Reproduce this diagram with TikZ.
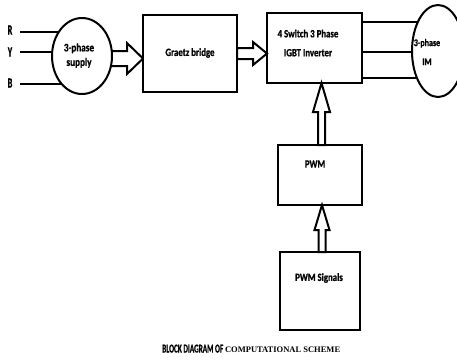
\documentclass[tikz,border=0pt]{standalone}
\usepackage{fontspec}
\setmainfont{Carlito}[FakeStretch=0.8, BoldFeatures={FakeBold=1}]
\newfontfamily\narrowfont{Carlito}[FakeStretch=0.6, BoldFeatures={FakeBold=0.8}]
\newfontfamily\serifcap{Liberation Serif}
\usetikzlibrary{shapes.geometric}
\pgfdeclarelayer{background}
\pgfsetlayers{background,main}
\tikzset{
  blk/.style={draw=black, fill=white, rectangle, inner sep=0pt, line width=2pt},
  oval/.style={draw=black, fill=white, ellipse, inner sep=0pt, line width=2pt},
  lbl/.style={font=\fontsize{11}{13}\selectfont\bfseries, align=center, inner sep=0pt},
  rlbl/.style={font=\narrowfont\bfseries\fontsize{14}{16}\selectfont, inner sep=0pt},
  hollow/.style={draw=black, fill=white, line join=miter, line width=2pt},
  wire/.style={draw=black, line width=2pt},
}
\begin{document}
\begin{tikzpicture}[x=1pt,y=-1pt,line width=2pt]
\useasboundingbox (0,0) rectangle (457,360);
% blocks
\node[oval, minimum width=60pt, minimum height=76pt] (sup) at (82,56) {};
\node[lbl, font=\fontsize{11.5}{14.5}\selectfont\bfseries] (supt) at (79,55.5) {3-phase\\supply};
\node[blk, minimum width=94pt, minimum height=77pt] (grae) at (190,53.5) {};
\node[lbl] (graet) at (190,53) {Graetz bridge};
\node[blk, minimum width=95pt, minimum height=70pt] (inv) at (314.5,48) {};
\node[lbl] (invt) at (308,43) {4 Switch 3 Phase\\[6pt]IGBT Inverter};
\node[oval, minimum width=52pt, minimum height=92pt] (im) at (438,51) {};
\node[lbl, font=\fontsize{10}{19}\selectfont\bfseries] (imt) at (427,52) {3-phase\\IM};
\node[blk, minimum width=84pt, minimum height=60pt] (pwm) at (320,175) {};
\node[lbl] (pwmt) at (315,164) {PWM};
\node[blk, minimum width=80pt, minimum height=78pt] (sig) at (320,291) {};
\node[lbl] (sigt) at (319,278) {PWM Signals};
% input labels
\node[rlbl] (lr) at (10,30) {R};
\node[rlbl] (ly) at (10,52) {Y};
\node[rlbl] (lb) at (10,83) {B};
\coordinate (r0) at (20,32);
\coordinate (y0) at (20,52);
\coordinate (b0) at (20,84);
\coordinate (m1) at (362,22);
\coordinate (m2) at (362,52);
\coordinate (m3) at (362,78);
\coordinate (t1) at (143,58.5);
\coordinate (t2) at (267,53.5);
\coordinate (t3) at (321.5,83);
\coordinate (t4) at (322,205);
\begin{pgfonlayer}{background}
  \draw[wire] (r0) -- (r0 -| sup.center);
  \draw[wire] (y0) -- (y0 -| sup.center);
  \draw[wire] (b0) -- (b0 -| sup.center);
  \draw[wire] (m1) -- (m1 -| im.center);
  \draw[wire] (m2) -- (m2 -| im.center);
  \draw[wire] (m3) -- (m3 -| im.center);
  \draw[hollow] (100,51) -- (127,51) -- (127,43) -- (t1) -- (127,74) -- (127,66) -- (100,66) -- cycle;
\end{pgfonlayer}
% hollow arrows
\draw[hollow] (237,48) -- (253,48) -- (253,42) -- (t2) -- (253,65) -- (253,59) -- (237,59) -- cycle;
\draw[hollow] (318,145) -- (318,112) -- (313,112) -- (t3) -- (330,112) -- (325,112) -- (325,145) -- cycle;
\draw[hollow] (318.5,252) -- (318.5,230) -- (314.5,230) -- (t4) -- (329.5,230) -- (325.5,230) -- (325.5,252) -- cycle;
% caption
\node[anchor=base west, inner sep=0pt] (cap) at (162,352.5) {{\narrowfont\bfseries\fontsize{12}{14}\selectfont BLOCK DIAGRAM OF} {\serifcap\bfseries\fontsize{8.5}{10}\selectfont COMPUTATIONAL SCHEME}};
\end{tikzpicture}
\end{document}
